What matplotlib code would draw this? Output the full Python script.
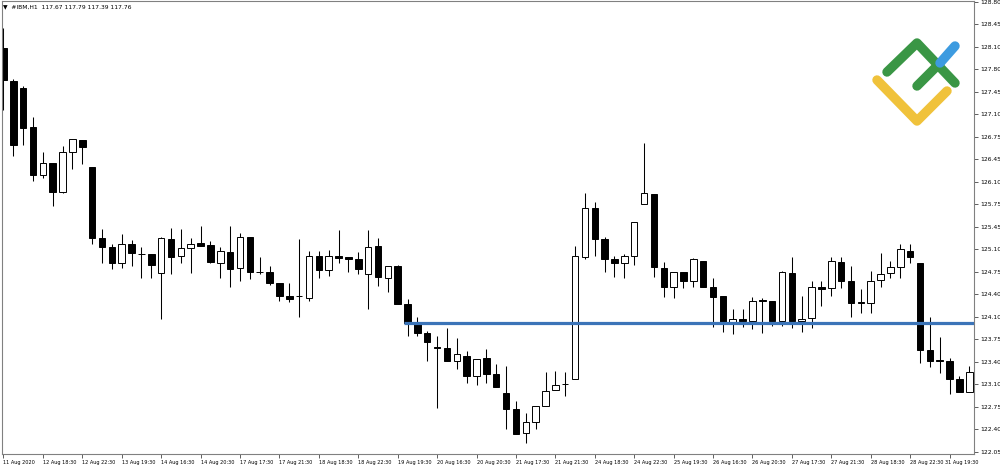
import matplotlib
matplotlib.use("Agg")
import matplotlib.pyplot as plt
from matplotlib.lines import Line2D
from matplotlib.transforms import ScaledTranslation

# IBM H1 bars, 11 Aug 2020 .. 31 Aug 2020
opens = [128.11, 127.62, 127.51, 126.93, 126.21, 126.39, 125.95, 126.55, 126.73, 126.33,
         125.26, 125.13, 124.89, 125.17, 125.02, 125.02, 124.74, 125.25, 124.99, 125.11,
         125.19, 125.16, 124.89, 125.05, 124.81, 125.28, 124.75, 124.75, 124.59, 124.39,
         124.39, 124.36, 124.99, 124.78, 124.99, 124.98, 124.95, 124.72, 125.14, 124.66,
         124.84, 124.27, 123.99, 123.84, 123.63, 123.61, 123.42, 123.49, 123.19, 123.46,
         123.22, 122.94, 122.70, 122.34, 122.50, 122.74, 122.98, 123.07, 123.15, 124.98,
         125.71, 125.25, 124.95, 124.89, 124.99, 125.77, 125.92, 124.81, 124.53, 124.75,
         124.62, 124.92, 124.53, 124.39, 124.00, 124.05, 124.02, 124.32, 124.32, 124.02,
         124.74, 124.02, 124.06, 124.53, 124.51, 124.90, 124.62, 124.29, 124.29, 124.63,
         124.74, 124.83, 125.07, 124.89, 123.58, 123.42, 123.42, 123.15, 122.95]
highs = [128.41, 127.65, 127.54, 127.08, 126.55, 126.39, 126.64, 126.75, 126.73, 126.33,
         125.40, 125.17, 125.32, 125.23, 125.13, 125.02, 125.28, 125.41, 125.40, 125.26,
         125.44, 125.22, 125.13, 125.44, 125.34, 125.28, 124.98, 124.84, 124.59, 124.59,
         125.25, 125.07, 125.07, 125.08, 125.38, 124.98, 125.05, 125.38, 125.26, 124.84,
         124.86, 124.35, 124.08, 123.87, 123.79, 123.91, 123.76, 123.57, 123.45, 123.60,
         123.37, 123.34, 122.82, 122.64, 122.74, 123.25, 123.27, 123.25, 125.14, 125.94,
         125.80, 125.28, 124.99, 125.02, 125.50, 126.69, 125.92, 124.90, 124.75, 124.75,
         124.96, 124.92, 124.66, 124.39, 124.20, 124.20, 124.38, 124.36, 124.32, 124.77,
         124.98, 124.39, 124.62, 124.62, 124.98, 124.98, 124.84, 124.50, 124.77, 125.04,
         124.92, 125.17, 125.17, 124.89, 124.08, 123.78, 123.46, 123.19, 123.34]
lows = [127.18, 126.49, 126.66, 126.12, 126.16, 125.74, 125.94, 126.30, 126.37, 125.17,
        124.89, 124.80, 124.81, 124.84, 124.66, 124.66, 124.05, 124.72, 124.89, 124.74,
        125.14, 124.89, 124.66, 124.53, 124.62, 124.65, 124.72, 124.56, 124.32, 124.30,
        124.08, 124.32, 124.66, 124.69, 124.89, 124.75, 124.72, 124.20, 124.54, 124.45,
        124.27, 123.79, 123.79, 123.42, 122.71, 123.42, 123.30, 123.09, 123.06, 123.09,
        123.03, 122.40, 122.32, 122.19, 122.40, 122.74, 122.98, 122.89, 123.15, 124.95,
        124.99, 124.75, 124.68, 124.66, 124.86, 125.77, 124.68, 124.38, 124.36, 124.51,
        124.53, 124.53, 123.93, 123.85, 123.82, 123.93, 123.90, 123.84, 123.94, 123.94,
        123.91, 123.85, 123.91, 124.24, 124.39, 124.51, 124.08, 124.14, 124.14, 124.53,
        124.66, 124.66, 124.89, 123.39, 123.33, 123.24, 122.92, 122.95, 122.95]
closes = [127.63, 126.66, 126.91, 126.21, 126.39, 125.95, 126.55, 126.75, 126.63, 125.26,
          125.13, 124.89, 125.17, 125.04, 125.02, 124.86, 125.26, 124.98, 125.11, 125.17,
          125.14, 124.90, 125.07, 124.80, 125.28, 124.75, 124.75, 124.59, 124.39, 124.35,
          124.39, 124.99, 124.78, 124.99, 124.96, 124.95, 124.80, 125.13, 124.68, 124.84,
          124.27, 123.99, 123.84, 123.70, 123.61, 123.42, 123.52, 123.19, 123.45, 123.22,
          123.03, 122.70, 122.32, 122.50, 122.74, 122.97, 123.06, 123.07, 124.99, 125.71,
          125.25, 124.95, 124.89, 124.99, 125.50, 125.94, 124.83, 124.53, 124.75, 124.62,
          124.95, 124.53, 124.38, 124.00, 124.05, 124.02, 124.32, 124.32, 124.02, 124.75,
          124.02, 124.05, 124.53, 124.50, 124.92, 124.62, 124.29, 124.29, 124.62, 124.72,
          124.83, 125.10, 124.98, 123.58, 123.42, 123.42, 123.15, 122.95, 123.25]

time_labels = ["11 Aug 2020", "12 Aug 18:30", "12 Aug 22:30", "13 Aug 19:30", "14 Aug 16:30",
               "14 Aug 20:30", "17 Aug 17:30", "17 Aug 21:30", "18 Aug 18:30", "18 Aug 22:30",
               "19 Aug 19:30", "20 Aug 16:30", "20 Aug 20:30", "21 Aug 17:30", "21 Aug 21:30",
               "24 Aug 18:30", "24 Aug 22:30", "25 Aug 19:30", "26 Aug 16:30", "26 Aug 20:30",
               "27 Aug 17:30", "27 Aug 21:30", "28 Aug 18:30", "28 Aug 22:30", "31 Aug 19:30"]
price_labels = ["128.80", "128.45", "128.10", "127.80", "127.45", "127.10", "126.75",
                "126.45", "126.10", "125.75", "125.45", "125.10", "124.75", "124.40",
                "124.10", "123.75", "123.40", "123.10", "122.75", "122.40", "122.05"]
header = "\u25bc  #IBM,H1  117.67 117.79 117.39 117.76"

level = 123.99        # horizontal support line
level_start = 40.6    # bar where the line is anchored

fig = plt.figure(figsize=(10, 4.7), dpi=100)
ax = fig.add_axes([0.0015, 16 / 470, 0.9725, 453 / 470])

n = len(opens)
xs = list(range(n))
colors = ["white" if c > o else "black" for o, c in zip(opens, closes)]
bottoms = [min(o, c) for o, c in zip(opens, closes)]
heights = [max(abs(c - o), 0.012) for o, c in zip(opens, closes)]
bottoms = [b - 0.006 if h == 0.012 else b for b, h in zip(bottoms, heights)]

ax.vlines(xs, lows, highs, color="black", lw=0.75, zorder=1)
ax.bar(xs, heights, bottom=bottoms, width=0.66, color=colors,
       edgecolor="black", linewidth=0.7, zorder=2)

xmax = 98.48
ax.hlines(level, level_start, xmax, color="#3b74b8", lw=2.3, zorder=3)

ax.set_xlim(-0.2, xmax)
ax.set_ylim(122.02, 128.815)

# time axis
ax.set_xticks(range(0, 4 * len(time_labels), 4))
ax.set_xticklabels(time_labels, fontsize=3.6, ha="left")
ax.tick_params(axis="x", length=3, width=0.6, pad=1.5, color="#444444")
last = ax.get_xticklabels()[-1]
last.set_transform(last.get_transform() + ScaledTranslation(-0.045, 0, fig.dpi_scale_trans))

# price axis
ax.yaxis.tick_right()
ax.set_yticks([128.80 - 0.3375 * j for j in range(len(price_labels))])
ax.set_yticklabels(price_labels, fontsize=4.3)
ax.tick_params(axis="y", length=3, width=0.6, pad=1.5, color="#444444")

for s in ax.spines.values():
    s.set_color("#808080")
    s.set_linewidth(0.8)

fig.text(0.003, 1 - 7 / 470, header, fontsize=4.3, va="center", ha="left")

# logo (pixel coordinates)
def px(pts):
    return [p[0] / 1000 for p in pts], [1 - p[1] / 470 for p in pts]

logo = [
    ([(877, 80), (917, 121), (947, 91)], "#f0c23b"),
    ([(887, 72), (917, 43), (955, 83)], "#3a9645"),
    ([(917, 86), (940, 63)], "#3a9645"),
    ([(940, 63), (955, 46)], "#3d9be0"),
]
for pts, col in logo:
    lx, ly = px(pts)
    fig.add_artist(Line2D(lx, ly, color=col, lw=6.8, solid_capstyle="round",
                          solid_joinstyle="round", transform=fig.transFigure))

fig.savefig("out.png", dpi=100, facecolor="white")
